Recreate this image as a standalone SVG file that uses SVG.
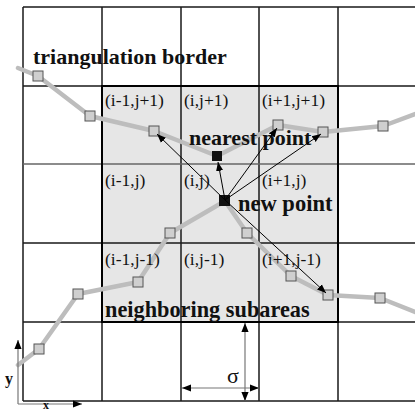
<svg xmlns="http://www.w3.org/2000/svg" width="415" height="412" viewBox="0 0 415 412">
<defs>
<marker id="ah" viewBox="0 0 10 10" refX="10" refY="5" markerWidth="9" markerHeight="9" markerUnits="userSpaceOnUse" orient="auto-start-reverse"><path d="M0,1 L10,5 L0,9 Z" fill="#000"/></marker>
<marker id="ahb" viewBox="0 0 10 10" refX="10" refY="5" markerWidth="9" markerHeight="9" markerUnits="userSpaceOnUse" orient="auto-start-reverse"><path d="M0,1 L10,5 L0,9 Z" fill="#000"/></marker>
</defs>
<style>
.grid{stroke:#1a1a1a;stroke-width:1.5;fill:none}
.gridg{stroke:#666;stroke-width:1.5;fill:none}
.border{stroke:#bdbdbd;stroke-width:4.5;fill:none;stroke-linejoin:round;stroke-linecap:round}
.pt{fill:#cfcfcf;stroke:#555;stroke-width:1}
.lbl{font-family:"Liberation Serif",serif;font-size:17.5px;fill:#111}
.bold{font-family:"Liberation Serif",serif;font-weight:bold;fill:#111}
.arr{stroke:#000;stroke-width:1;fill:none}
.dim{stroke:#777;stroke-width:1.2;fill:none}
</style>
<rect width="415" height="412" fill="#fff"/>
<g id="grid">
<rect x="102" y="86" width="236" height="236" fill="#e6e6e6"/>
<path class="grid" d="M23,7 H415 M23,86 H415 M23,243 H415 M23,322 H415 M23,401 H415 M23,7 V401 M102,7 V401 M181,7 V401 M259,7 V401 M338,7 V401"/>
<path class="gridg" d="M23,164 H415"/>
<rect x="102" y="86" width="236" height="236" fill="none" stroke="#000" stroke-width="2"/>
</g>
<g id="border1">
<polyline class="border" points="18,68 38,76 90,116 154,131 217,156 278,125 323,132 383,126 415,114"/>
</g>
<g id="border2">
<polyline class="border" points="18,365 39,349 78,294 138,282 170,233 225,201 247,233 291,276 328,295 380,298 415,312"/>
</g>
<g id="points">
<rect class="pt" x="33" y="71" width="10" height="10"/>
<rect class="pt" x="85" y="111" width="10" height="10"/>
<rect class="pt" x="149" y="126" width="10" height="10"/>
<rect class="pt" x="273" y="120" width="10" height="10"/>
<rect class="pt" x="318" y="127" width="10" height="10"/>
<rect class="pt" x="378" y="121" width="10" height="10"/>
<rect class="pt" x="34" y="344" width="10" height="10"/>
<rect class="pt" x="73" y="289" width="10" height="10"/>
<rect class="pt" x="133" y="277" width="10" height="10"/>
<rect class="pt" x="165" y="228" width="10" height="10"/>
<rect class="pt" x="242" y="228" width="10" height="10"/>
<rect class="pt" x="286" y="271" width="10" height="10"/>
<rect class="pt" x="323" y="290" width="10" height="10"/>
<rect class="pt" x="375" y="293" width="10" height="10"/>
</g>
<g id="nearest-point">
<rect x="212" y="151" width="10" height="10" fill="#111"/>
<text class="bold" x="189" y="145" font-size="22">nearest point</text>
</g>
<g id="new-point">
<rect x="219" y="195" width="11" height="11" fill="#111"/>
<text class="bold" x="238" y="211" font-size="22.5">new point</text>
</g>
<g id="connectors">
<line class="arr" x1="225" y1="200" x2="218" y2="162" stroke-width="2" marker-end="url(#ahb)"/>
<line class="arr" x1="225" y1="200" x2="157" y2="134" marker-end="url(#ah)"/>
<line class="arr" x1="225" y1="200" x2="277" y2="128" marker-end="url(#ah)"/>
<line class="arr" x1="225" y1="200" x2="321" y2="134" marker-end="url(#ah)"/>
<line class="arr" x1="225" y1="200" x2="326" y2="293" marker-end="url(#ah)"/>
</g>
<g id="labels">
<text class="bold" x="33" y="64" font-size="22">triangulation border</text>
<text class="bold" x="105" y="317" font-size="22.3">neighboring subareas</text>
<text class="lbl" x="105" y="106">(i-1,j+1)</text>
<text class="lbl" x="184" y="106">(i,j+1)</text>
<text class="lbl" x="262" y="106">(i+1,j+1)</text>
<text class="lbl" x="105" y="186">(i-1,j)</text>
<text class="lbl" x="184" y="186">(i,j)</text>
<text class="lbl" x="262" y="186">(i+1,j)</text>
<text class="lbl" x="105" y="265">(i-1,j-1)</text>
<text class="lbl" x="184" y="265">(i,j-1)</text>
<text class="lbl" x="262" y="265">(i+1,j-1)</text>
</g>
<g id="sigma">
<line class="dim" x1="245" y1="323" x2="245" y2="401" marker-start="url(#ah)" marker-end="url(#ah)"/>
<line class="dim" x1="182" y1="388" x2="259" y2="388" marker-start="url(#ah)" marker-end="url(#ah)"/>
<text x="227" y="383" font-family="Liberation Serif,serif" font-size="22" fill="#111">σ</text>
</g>
<g id="axes">
<line class="dim" x1="18" y1="404" x2="18" y2="340" marker-end="url(#ah)"/>
<line class="dim" x1="18" y1="404" x2="82" y2="404" marker-end="url(#ah)"/>
<text class="bold" x="5" y="384" font-size="16">y</text>
<text class="bold" x="43" y="409" font-size="12">x</text>
</g>
</svg>
